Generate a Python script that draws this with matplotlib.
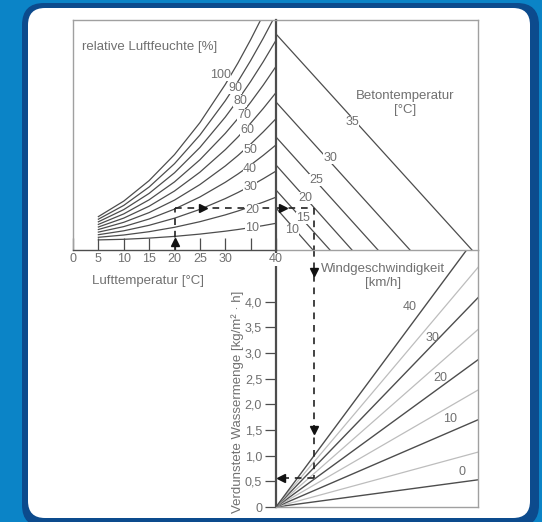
import matplotlib
matplotlib.use("Agg")
import matplotlib.pyplot as plt
from matplotlib.patches import FancyBboxPatch

plt.rcParams["font.family"] = ["Liberation Sans", "DejaVu Sans"]

W, H = 542, 522

# Oben links: Lufttemperatur [°C] und Kurven der relativen Luftfeuchte
air_temp = [5, 10, 15, 20, 25, 30, 32.5, 35, 37.5, 40]
humidity = [10, 20, 30, 40, 50, 60, 70, 80, 90, 100]
# Kurvenhöhe (Nomogramm-Einheiten, 0..230) je Luftfeuchte an den Stützstellen
humidity_curves = [
    [10.1, 10.7, 11.9, 13.6, 15.9, 18.8, 20.5, 22.4, 24.4, 26.7],
    [12.7, 15.0, 18.3, 22.7, 28.3, 35.1, 39.0, 43.3, 47.9, 52.8],
    [15.3, 19.2, 24.7, 31.8, 40.6, 51.4, 57.5, 64.1, 71.3, 78.9],
    [17.9, 23.4, 31.0, 40.9, 53.0, 67.7, 76.0, 85.0, 94.7, 105.1],
    [20.5, 27.7, 37.4, 49.9, 65.4, 84.0, 94.5, 105.9, 118.2, 131.3],
    [23.0, 31.9, 43.8, 59.0, 77.8, 100.3, 113.0, 126.8, 141.6, 157.4],
    [25.6, 36.1, 50.2, 68.1, 90.2, 116.6, 131.5, 147.7, 165.0, 183.6],
    [28.2, 40.4, 56.6, 77.2, 102.5, 132.9, 150.0, 168.5, 188.4, 209.7],
    [30.8, 44.6, 63.0, 86.3, 114.9, 149.2, 168.5, 189.4, 211.9, 235.9],
    [33.4, 48.9, 69.4, 95.4, 127.3, 165.5, 187.0, 210.3, 235.3, 262.0],
]
humidity_label_t = [35.3, 35.3, 34.9, 34.9, 34.9, 34.3, 33.7, 32.9, 31.9, 29.0]
humidity_label_h = [22, 40, 63, 81, 100, 120, 135, 149, 162, 175]

# Oben rechts: Betontemperatur [°C]
concrete_temp = [10, 15, 20, 25, 30, 35]
concrete_left = [42, 60, 85, 113, 148, 216]     # Höhe an der Trennlinie
concrete_bottom = [37, 54, 76, 102, 134, 196]   # Schnitt mit der Unterkante
concrete_label_x = [16, 27, 29, 40, 54, 76]
concrete_label_y = [20, 32, 52, 70, 92, 128]

# Unten rechts: Windgeschwindigkeit [km/h] -> Wert am rechten Rand
wind_speed = [0, 5, 10, 15, 20, 25, 30, 35, 40]
wind_evap_right = [0.53, 1.07, 1.70, 2.28, 2.87, 3.46, 4.08, 4.67, 5.31]
wind_label_x = [186, 174, 164, 156, 134]
wind_label_y = [0.68, 1.72, 2.52, 3.30, 3.90]
evap_ticks = [0, 0.5, 1.0, 1.5, 2.0, 2.5, 3.0, 3.5, 4.0]

# Beispiel (gestrichelter Pfad)
ex_air = 20
ex_level = 42
ex_x = 38
ex_evap = 0.57

X_MAX = 202
Y_TOP = 230
EVAP_TOP = 5.01

frame = "#a0a0a0"
dark = "#4d4d4d"
txt = "#707070"
FS = 9.5   # Achsentitel
FS_LAB = 9  # Zahlen


def box(x0, y0, x1, y1):
    return [x0 / W, 1 - y1 / H, (x1 - x0) / W, (y1 - y0) / H]


fig = plt.figure(figsize=(W / 100, H / 100), dpi=100)
fig.patch.set_facecolor("#0b84c7")

bg = fig.add_axes([0, 0, 1, 1], zorder=-5)
bg.set_xlim(0, W)
bg.set_ylim(H, 0)
bg.axis("off")
bg.add_patch(FancyBboxPatch((22, 3), 517, 524, boxstyle="round,pad=0,rounding_size=22",
                            fc="#0c4b8d", ec="none"))
bg.add_patch(FancyBboxPatch((28, 8), 502, 510, boxstyle="round,pad=0,rounding_size=17",
                            fc="white", ec="none"))

ax1 = fig.add_axes(box(73, 20, 276, 250), zorder=3)
ax2 = fig.add_axes(box(276, 20, 478, 250), zorder=2)
ax3 = fig.add_axes(box(276, 250, 478, 507), zorder=1)

for ax in (ax1, ax2, ax3):
    for s in ax.spines.values():
        s.set_color(frame)
        s.set_linewidth(1.0)

# --- oben links ---
ax1.set_xlim(0, 40)
ax1.set_ylim(0, Y_TOP)
ax1.spines["bottom"].set_color(dark)
ax1.spines["right"].set_color(dark)
ax1.spines["right"].set_linewidth(1.6)
for row in humidity_curves:
    ax1.plot(air_temp, row, color=dark, lw=0.9)
for rh, t, h in zip(humidity, humidity_label_t, humidity_label_h):
    ax1.text(t, h, str(rh), fontsize=FS_LAB, color=txt, ha="center", va="center",
             bbox=dict(fc="white", ec="none", pad=0.3))
ax1.set_xticks([0, 5, 10, 15, 20, 25, 30, 35, 40],
               ["0", "5", "10", "15", "20", "25", "30", "", "40"])
ax1.set_yticks([])
ax1.tick_params(axis="x", direction="in", length=9, width=0.9, color=dark,
                labelsize=FS_LAB, labelcolor=txt, pad=2.5)
for lab in ax1.get_xticklabels():
    lab.set_bbox(dict(fc="white", ec="none", pad=0.5))
ax1.text(1.8, 203, "relative Luftfeuchte [%]", fontsize=FS, color=txt, va="center")

# --- oben rechts ---
ax2.set_xlim(0, X_MAX)
ax2.set_ylim(0, Y_TOP)
ax2.spines["left"].set_visible(False)
ax2.set_xticks([])
ax2.set_yticks([])
for ct, y0, x0 in zip(concrete_temp, concrete_left, concrete_bottom):
    ax2.plot([0, x0], [y0, 0], color=dark, lw=0.9)
for ct, lx, ly in zip(concrete_temp, concrete_label_x, concrete_label_y):
    ax2.text(lx, ly, str(ct), fontsize=FS_LAB, color=txt, ha="center", va="center",
             bbox=dict(fc="white", ec="none", pad=0.3))
ax2.text(129, 147, "Betontemperatur\n[°C]", fontsize=FS, color=txt, ha="center",
         va="center", linespacing=1.25)

# --- unten rechts ---
ax3.set_xlim(0, X_MAX)
ax3.set_ylim(0, EVAP_TOP)
ax3.spines["top"].set_visible(False)
ax3.spines["left"].set_color(dark)
ax3.spines["left"].set_linewidth(1.6)
ax3.set_xticks([])
ax3.set_yticks(evap_ticks, ["0"] + [f"{v:.1f}".replace(".", ",") for v in evap_ticks[1:]])
ax3.tick_params(axis="y", direction="out", length=8, width=0.9, color=dark,
                labelsize=FS_LAB, labelcolor=txt, pad=2)
for ws, ye in zip(wind_speed, wind_evap_right):
    major = ws % 10 == 0
    ax3.plot([0, X_MAX], [0, ye], color=dark if major else "#bdbdbd",
             lw=1.0 if major else 0.9)
for ws, lx, ly in zip(wind_speed[::2], wind_label_x, wind_label_y):
    ax3.text(lx, ly, str(ws), fontsize=FS_LAB, color=txt, ha="center", va="center")
ax3.text(107, 4.51, "Windgeschwindigkeit\n[km/h]", fontsize=FS, color=txt,
         ha="center", va="center", linespacing=1.25)

# --- Beispielpfad ---
dash = dict(color="#222222", lw=1.2, dashes=(4, 3.5))
ax1.plot([ex_air, ex_air], [0, ex_level], **dash)
ax1.plot([ex_air, 40], [ex_level, ex_level], **dash)
ax2.plot([0, ex_x], [ex_level, ex_level], **dash)
ax2.plot([ex_x, ex_x], [ex_level, 0], **dash)
ax3.plot([ex_x, ex_x], [EVAP_TOP, ex_evap], **dash)
ax3.plot([ex_x, 0], [ex_evap, ex_evap], **dash)
mk = dict(color="#111111", ms=5.5, ls="none")
ax1.plot(ex_air, 8, marker="^", **mk)
ax1.plot(25.7, ex_level, marker=">", **mk)
ax2.plot(7, ex_level, marker=">", **mk)
ax3.plot(ex_x, 4.59, marker="v", **mk)
ax3.plot(ex_x, 1.50, marker="v", **mk)
ax3.plot(5, ex_evap, marker="<", **mk)

# Achsentitel
fig.text(92 / W, 1 - 281 / H, "Lufttemperatur [°C]", fontsize=FS, color=txt, va="center")
fig.text(238 / W, 1 - 402 / H, "Verdunstete Wassermenge [kg/m² · h]", fontsize=FS,
         color=txt, rotation=90, ha="center", va="center")

fig.savefig("out.png", dpi=100, facecolor=fig.get_facecolor())
